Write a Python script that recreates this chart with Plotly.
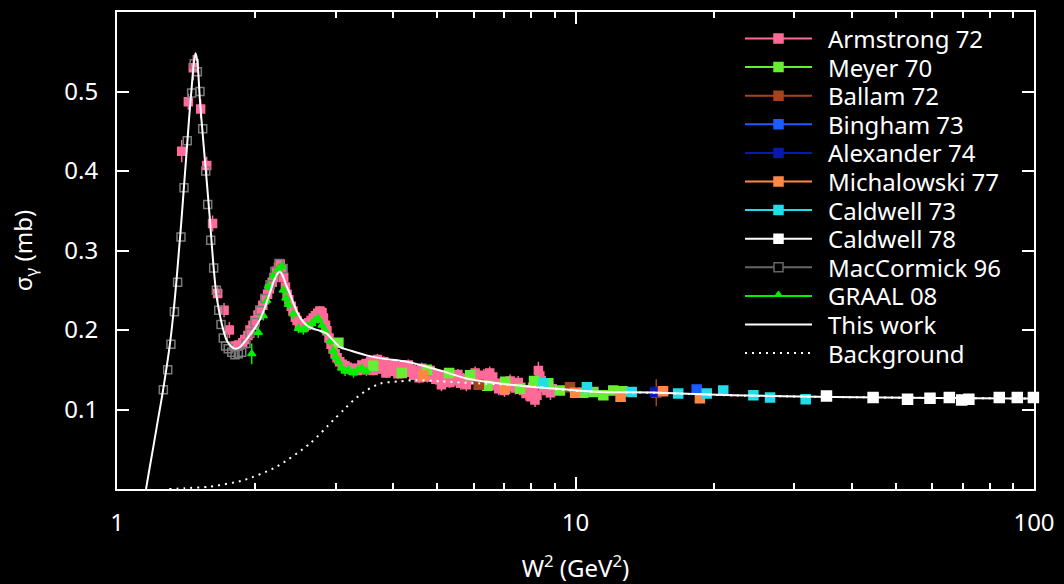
import plotly.graph_objects as go

# ---- photoabsorption data: W^2 (GeV^2), sigma (mb), error (mb) ----
arm_w2 = [1.384, 1.431, 1.467, 1.522, 1.569, 1.616, 1.658, 1.712, 1.758, 1.809,
          1.83, 1.85, 1.88, 1.90, 1.93, 1.95, 1.98, 2.00, 2.03, 2.05,
          2.08, 2.10, 2.13, 2.15, 2.18, 2.20, 2.23, 2.25, 2.27, 2.29,
          2.31, 2.33, 2.35, 2.37, 2.40, 2.42, 2.45, 2.47, 2.50, 2.53,
          2.56, 2.59, 2.62, 2.65, 2.68, 2.71, 2.74, 2.77, 2.80, 2.82,
          2.85, 2.87, 2.90, 2.93, 2.96, 2.99, 3.02, 3.06, 3.10, 3.14,
          3.18, 3.22, 3.26, 3.30, 3.34, 3.38,
          3.42, 3.46, 3.50, 3.54, 3.58, 3.62, 3.66, 3.70, 3.74, 3.78,
          3.82, 3.86, 3.90, 3.95, 4.00, 4.05, 4.10, 4.15, 4.20, 4.26,
          4.32, 4.38, 4.44, 4.50, 4.56, 4.62, 4.68, 4.75, 4.82, 4.89,
          4.96, 5.03, 5.10, 5.17, 5.24, 5.31, 5.38, 5.46, 5.54, 5.62,
          5.70, 5.78, 5.86, 5.95, 6.04, 6.13, 6.22, 6.31, 6.40, 6.50,
          6.60, 6.70, 6.80, 6.90, 7.00, 7.10, 7.20, 7.30, 7.40, 7.50,
          7.60, 7.70, 7.80, 7.90, 8.00, 8.08, 8.16, 8.24, 8.30, 8.36,
          8.42, 8.50, 8.58, 8.66, 8.74, 8.82, 8.90]
arm_sig = [0.425, 0.487, 0.530, 0.478, 0.407, 0.334, 0.246, 0.225, 0.200, 0.180,
           0.180, 0.181, 0.184, 0.188, 0.193, 0.200, 0.206, 0.212, 0.219, 0.225,
           0.231, 0.238, 0.245, 0.252, 0.260, 0.266, 0.274, 0.279, 0.283, 0.276,
           0.266, 0.254, 0.245, 0.238, 0.230, 0.224, 0.216, 0.212, 0.208, 0.206,
           0.204, 0.206, 0.209, 0.212, 0.215, 0.218, 0.221, 0.224, 0.222, 0.215,
           0.206, 0.199, 0.190, 0.182, 0.176, 0.170, 0.165, 0.160, 0.157, 0.155,
           0.153, 0.151, 0.150, 0.152, 0.149, 0.151,
           0.156, 0.150, 0.158, 0.152, 0.161, 0.149, 0.155, 0.163, 0.151, 0.157,
           0.160, 0.146, 0.153, 0.148, 0.156, 0.150, 0.145, 0.154, 0.151, 0.147,
           0.156, 0.150, 0.143, 0.148, 0.140, 0.152, 0.146, 0.141, 0.149, 0.145,
           0.138, 0.143, 0.131, 0.136, 0.140, 0.134, 0.142, 0.137, 0.144, 0.133,
           0.139, 0.131, 0.137, 0.142, 0.146, 0.138, 0.134, 0.143, 0.139, 0.146,
           0.141, 0.130, 0.126, 0.133, 0.124, 0.129, 0.136, 0.131, 0.127, 0.134,
           0.128, 0.124, 0.120, 0.125, 0.116, 0.121, 0.112, 0.118, 0.149, 0.142,
           0.136, 0.128, 0.133, 0.124, 0.130, 0.121, 0.126]
arm_err = ([0.014, 0.010, 0.016, 0.012, 0.011, 0.010, 0.010, 0.009, 0.010, 0.007]
           + [0.006] * 56
           + [0.007, 0.006, 0.007, 0.006, 0.007, 0.006, 0.007, 0.007, 0.006, 0.007,
              0.007, 0.006, 0.007, 0.006, 0.007, 0.006, 0.006, 0.007, 0.007, 0.006,
              0.007, 0.007, 0.006, 0.007, 0.007, 0.007, 0.007, 0.007, 0.007, 0.007,
              0.007, 0.007, 0.008, 0.007, 0.008, 0.007, 0.007, 0.008, 0.007, 0.008,
              0.007, 0.008, 0.008, 0.008, 0.008, 0.008, 0.008, 0.008, 0.008, 0.008,
              0.008, 0.008, 0.008, 0.008, 0.008, 0.008, 0.008, 0.008, 0.008, 0.008,
              0.008, 0.009, 0.009, 0.009, 0.009, 0.009, 0.009, 0.009, 0.011, 0.009,
              0.009, 0.009, 0.009, 0.009, 0.009, 0.009, 0.009])

mey_w2 = [3.04, 3.62, 4.18, 4.74, 5.30, 5.89, 6.42, 7.02, 7.57, 8.12,
          8.72, 9.25, 10.40, 10.94, 11.50, 12.09, 12.67]
mey_sig = [0.184, 0.155, 0.146, 0.150, 0.146, 0.143, 0.130, 0.135, 0.126, 0.136,
           0.133, 0.124, 0.121, 0.122, 0.118, 0.124, 0.123]
mey_err = [0.004, 0.004, 0.004, 0.004, 0.004, 0.004, 0.004, 0.004, 0.004, 0.004,
           0.004, 0.004, 0.004, 0.004, 0.004, 0.004, 0.004]

bal_w2 = [6.15, 9.73, 15.0]
bal_sig = [0.131, 0.128, 0.121]
bal_err = [0.004, 0.004, 0.017]

bin_w2 = [18.38]
bin_sig = [0.1251]
bin_err = [0.006]

ale_w2 = [14.91]
ale_sig = [0.122]
ale_err = [0.006]

mic_w2 = [4.66, 7.02, 9.98, 12.54, 15.52, 18.68]
mic_sig = [0.143, 0.126, 0.121, 0.116, 0.123, 0.114]
mic_err = [0.003, 0.003, 0.003, 0.003, 0.003, 0.003]

c73_w2 = [8.51, 10.59, 13.26, 16.75, 19.33, 21.0, 24.43, 26.57, 31.77]
c73_sig = [0.133, 0.128, 0.122, 0.120, 0.120, 0.124, 0.118, 0.115, 0.113]
c73_err = [0.003, 0.003, 0.003, 0.003, 0.003, 0.003, 0.003, 0.003, 0.003]

c78_w2 = [35.27, 44.57, 52.99, 59.32, 65.36, 69.55, 72.1, 84.0, 91.95, 99.7]
c78_sig = [0.117, 0.115, 0.113, 0.114, 0.115, 0.112, 0.113, 0.115, 0.115, 0.115]
c78_err = [0.002, 0.002, 0.002, 0.002, 0.002, 0.002, 0.002, 0.002, 0.002, 0.002]

mac_w2 = [1.262, 1.290, 1.311, 1.334, 1.356, 1.379, 1.400, 1.423, 1.455, 1.474,
          1.497, 1.517, 1.538, 1.561, 1.577, 1.601, 1.625, 1.647, 1.667, 1.686,
          1.705, 1.725, 1.748, 1.779, 1.809, 1.839, 1.871, 1.911, 1.950, 2.000,
          2.050, 2.102, 2.157, 2.211, 2.256, 2.302]
mac_sig = [0.125, 0.150, 0.182, 0.223, 0.260, 0.317, 0.379, 0.438, 0.498, 0.535,
           0.525, 0.500, 0.453, 0.400, 0.358, 0.313, 0.278, 0.250, 0.225, 0.207,
           0.190, 0.180, 0.1765, 0.172, 0.169, 0.170, 0.172, 0.183, 0.196, 0.2095,
           0.2246, 0.2397, 0.257, 0.2735, 0.2836, 0.2773]

gra_w2 = [1.967, 2.033, 2.085, 2.121, 2.139, 2.193, 2.245, 2.287, 2.306, 2.335,
          2.364, 2.424, 2.486, 2.549, 2.600, 2.659, 2.700, 2.749, 2.800, 2.843,
          2.915, 2.963, 3.000, 3.040, 3.090, 3.144, 3.200, 3.279, 3.350, 3.420,
          3.500]
gra_sig = [0.170, 0.197, 0.218, 0.237, 0.255, 0.268, 0.276, 0.280, 0.250, 0.240,
           0.232, 0.220, 0.202, 0.200, 0.205, 0.208, 0.212, 0.214, 0.206, 0.199,
           0.186, 0.174, 0.166, 0.160, 0.152, 0.148, 0.150, 0.146, 0.150, 0.152,
           0.148]
gra_err = [0.013, 0.007, 0.006, 0.006, 0.006, 0.006, 0.006, 0.006, 0.006, 0.006,
           0.006, 0.006, 0.006, 0.006, 0.006, 0.006, 0.006, 0.006, 0.006, 0.006,
           0.006, 0.006, 0.006, 0.006, 0.006, 0.006, 0.006, 0.006, 0.006, 0.006,
           0.006]
gra_w2err = [0.012] * len(gra_w2)

# ---- model curves ----
fit_w2 = [1.157, 1.180, 1.204, 1.228, 1.254, 1.279, 1.305, 1.328, 1.348, 1.365,
          1.383, 1.400, 1.418, 1.436, 1.454, 1.468, 1.483, 1.497, 1.517, 1.542,
          1.569, 1.595, 1.622, 1.650, 1.692, 1.735, 1.770, 1.809, 1.855, 1.950,
          2.000, 2.050, 2.100, 2.150, 2.200, 2.240, 2.268, 2.300, 2.340, 2.384,
          2.440, 2.506, 2.590, 2.680, 2.770, 2.868, 2.960, 3.065, 3.222, 3.504,
          3.800, 4.290, 5.070, 5.790, 6.840, 8.090, 9.570, 11.31, 14.76, 22.06,
          36.45, 60.2, 100.0]
fit_sig = [0.000, 0.0289, 0.0577, 0.0866, 0.1167, 0.148, 0.1832, 0.222, 0.262, 0.300,
           0.340, 0.381, 0.423, 0.4655, 0.503, 0.531, 0.548, 0.538, 0.488, 0.438,
           0.388, 0.338, 0.283, 0.241, 0.208, 0.187, 0.180, 0.1765, 0.1786, 0.194,
           0.203, 0.213, 0.228, 0.245, 0.262, 0.271, 0.2735, 0.268, 0.256, 0.2455,
           0.230, 0.216, 0.206, 0.2016, 0.199, 0.1954, 0.187, 0.1785, 0.1744, 0.1681,
           0.164, 0.160, 0.149, 0.139, 0.1326, 0.1284, 0.1251, 0.122, 0.1214, 0.1179,
           0.1158, 0.1146, 0.1138]

bg_w2 = [1.30, 1.407, 1.595, 1.886, 2.230, 2.636, 2.963, 3.116, 3.279, 3.504,
         3.746, 4.142, 4.500, 5.070, 5.790, 7.440, 9.570, 11.31, 14.76, 22.06,
         36.45, 60.2, 100.0]
bg_sig = [0.000, 0.001, 0.003, 0.011, 0.028, 0.0573, 0.0866, 0.099, 0.1117, 0.1242,
          0.1326, 0.1355, 0.1368, 0.1355, 0.1336, 0.1305, 0.1245, 0.1222, 0.1210, 0.1177,
          0.1157, 0.1146, 0.1138]

FONT = "Noto Sans"
FS = 24
DOTS = "2px,5px"
fig = go.Figure()


def add_data(x, y, err, color, name, symbol="square", size=8, xerr=None):
    """Scatter with vertical (and optional horizontal) error bars."""
    fig.add_trace(go.Scatter(
        x=x, y=y, mode="markers", showlegend=False, cliponaxis=False, name=name,
        marker=dict(symbol=symbol, size=size, color=color,
                    line=dict(width=1.5, color=color)),
        error_y=dict(type="data", array=err, visible=err is not None,
                     color=color, thickness=1.5, width=0),
        error_x=dict(type="data", array=xerr, visible=xerr is not None,
                     color=color, thickness=1.5, width=0),
    ))


add_data(arm_w2, arm_sig, arm_err, "#ff6a98", "Armstrong 72")
add_data(mey_w2, mey_sig, mey_err, "#66ee33", "Meyer 70", size=9)
add_data(bal_w2, bal_sig, bal_err, "#a4441a", "Ballam 72", size=9)
add_data(bin_w2, bin_sig, bin_err, "#1c5cff", "Bingham 73", size=9)
add_data(ale_w2, ale_sig, ale_err, "#0a18b0", "Alexander 74", size=9)
add_data(mic_w2, mic_sig, mic_err, "#ff8844", "Michalowski 77", size=9)
add_data(c73_w2, c73_sig, c73_err, "#22dcea", "Caldwell 73", size=9)
add_data(c78_w2, c78_sig, c78_err, "#ffffff", "Caldwell 78", size=10)
add_data(mac_w2, mac_sig, None, "#7a7a7a", "MacCormick 96", symbol="square-open", size=8)
add_data(gra_w2, gra_sig, gra_err, "#00f000", "GRAAL 08", symbol="triangle-up",
         size=7, xerr=gra_w2err)

fig.add_trace(go.Scatter(
    x=fit_w2, y=fit_sig, mode="lines", name="This work", showlegend=False,
    line=dict(color="white", width=2, shape="spline", smoothing=0.7),
))
fig.add_trace(go.Scatter(
    x=bg_w2, y=bg_sig, mode="lines", name="Background", showlegend=False,
    line=dict(color="white", width=2, dash=DOTS, shape="spline", smoothing=0.7),
))

# ---- key (top right, gnuplot style: sample line with point, then label) ----
PLOT_L, PLOT_W, PLOT_B, PLOT_H = 117, 917, 489, 477
key_entries = [
    ("Armstrong 72", "#ff6a98", "sq", "solid"),
    ("Meyer 70", "#66ee33", "sq", "solid"),
    ("Ballam 72", "#a4441a", "sq", "solid"),
    ("Bingham 73", "#1c5cff", "sq", "solid"),
    ("Alexander 74", "#0a18b0", "sq", "solid"),
    ("Michalowski 77", "#ff8844", "sq", "solid"),
    ("Caldwell 73", "#22dcea", "sq", "solid"),
    ("Caldwell 78", "#ffffff", "sq", "solid"),
    ("MacCormick 96", "#666666", "sqo", "solid"),
    ("GRAAL 08", "#00f000", "tri", "solid"),
    ("This work", "#ffffff", None, "solid"),
    ("Background", "#ffffff", None, DOTS),
]
KEY_TOP, KEY_STEP = 38.5, 28.6
LINE_X0, LINE_X1, TEXT_X = 745, 812, 826


def px_x(p):
    return (p - PLOT_L) / PLOT_W


def px_y(p):
    return (PLOT_B - p) / PLOT_H


shapes, annotations = [], []
for i, (label, col, mk, dash) in enumerate(key_entries):
    yc = KEY_TOP + KEY_STEP * i
    shapes.append(dict(type="line", xref="paper", yref="paper",
                       x0=px_x(LINE_X0), x1=px_x(LINE_X1), y0=px_y(yc), y1=px_y(yc),
                       line=dict(color=col, width=2, dash=dash)))
    xm = (LINE_X0 + LINE_X1) / 2
    if mk in ("sq", "sqo"):
        shapes.append(dict(type="rect", xref="paper", yref="paper",
                           xsizemode="pixel", ysizemode="pixel",
                           xanchor=px_x(xm), yanchor=px_y(yc),
                           x0=-4.5, x1=4.5, y0=-4.5, y1=4.5,
                           fillcolor=col if mk == "sq" else "black",
                           line=dict(color=col, width=1.5)))
    elif mk == "tri":
        shapes.append(dict(type="path", xref="paper", yref="paper",
                           xsizemode="pixel", ysizemode="pixel",
                           xanchor=px_x(xm), yanchor=px_y(yc),
                           path="M-3.5,0 L3.5,0 L0,5 Z",
                           fillcolor=col, line=dict(color=col, width=1)))
    annotations.append(dict(text=label, xref="paper", yref="paper",
                            x=px_x(TEXT_X), y=px_y(yc), xanchor="left", yanchor="middle",
                            showarrow=False, font=dict(family=FONT, size=FS, color="white")))

axis_common = dict(
    showline=True, linecolor="white", linewidth=2, mirror="allticks",
    ticks="inside", ticklen=12, tickwidth=1.5, tickcolor="white",
    showgrid=False, zeroline=False, automargin=False,
    tickfont=dict(family=FONT, size=FS, color="white"),
)

fig.update_layout(
    width=1064, height=584,
    paper_bgcolor="black", plot_bgcolor="black",
    margin=dict(l=PLOT_L, r=1064 - PLOT_L - PLOT_W, t=PLOT_B - PLOT_H, b=584 - PLOT_B),
    font=dict(family=FONT, size=FS, color="white"),
    showlegend=False,
    shapes=shapes,
    annotations=annotations,
    xaxis=dict(
        type="log", range=[0, 2],
        tickvals=[1, 10, 100], ticktext=["1", "10", "100"],
        ticklabelstandoff=11,
        minor=dict(ticks="inside", ticklen=6, tickwidth=1.5, tickcolor="white",
                   tickvals=[2, 3, 4, 5, 6, 7, 8, 9,
                             20, 30, 40, 50, 60, 70, 80, 90]),
        title=dict(text="W<sup>2</sup> (GeV<sup>2</sup>)",
                   font=dict(family=FONT, size=FS, color="white"), standoff=37),
        **axis_common,
    ),
    yaxis=dict(
        range=[0, 0.6],
        tickvals=[0.1, 0.2, 0.3, 0.4, 0.5],
        ticktext=["0.1", "0.2", "0.3", "0.4", "0.5"],
        ticklabelstandoff=12,
        title=dict(text="σ<sub>γ</sub> (mb)",
                   font=dict(family=FONT, size=FS, color="white"), standoff=25),
        **axis_common,
    ),
)

fig.write_html("out.html")
